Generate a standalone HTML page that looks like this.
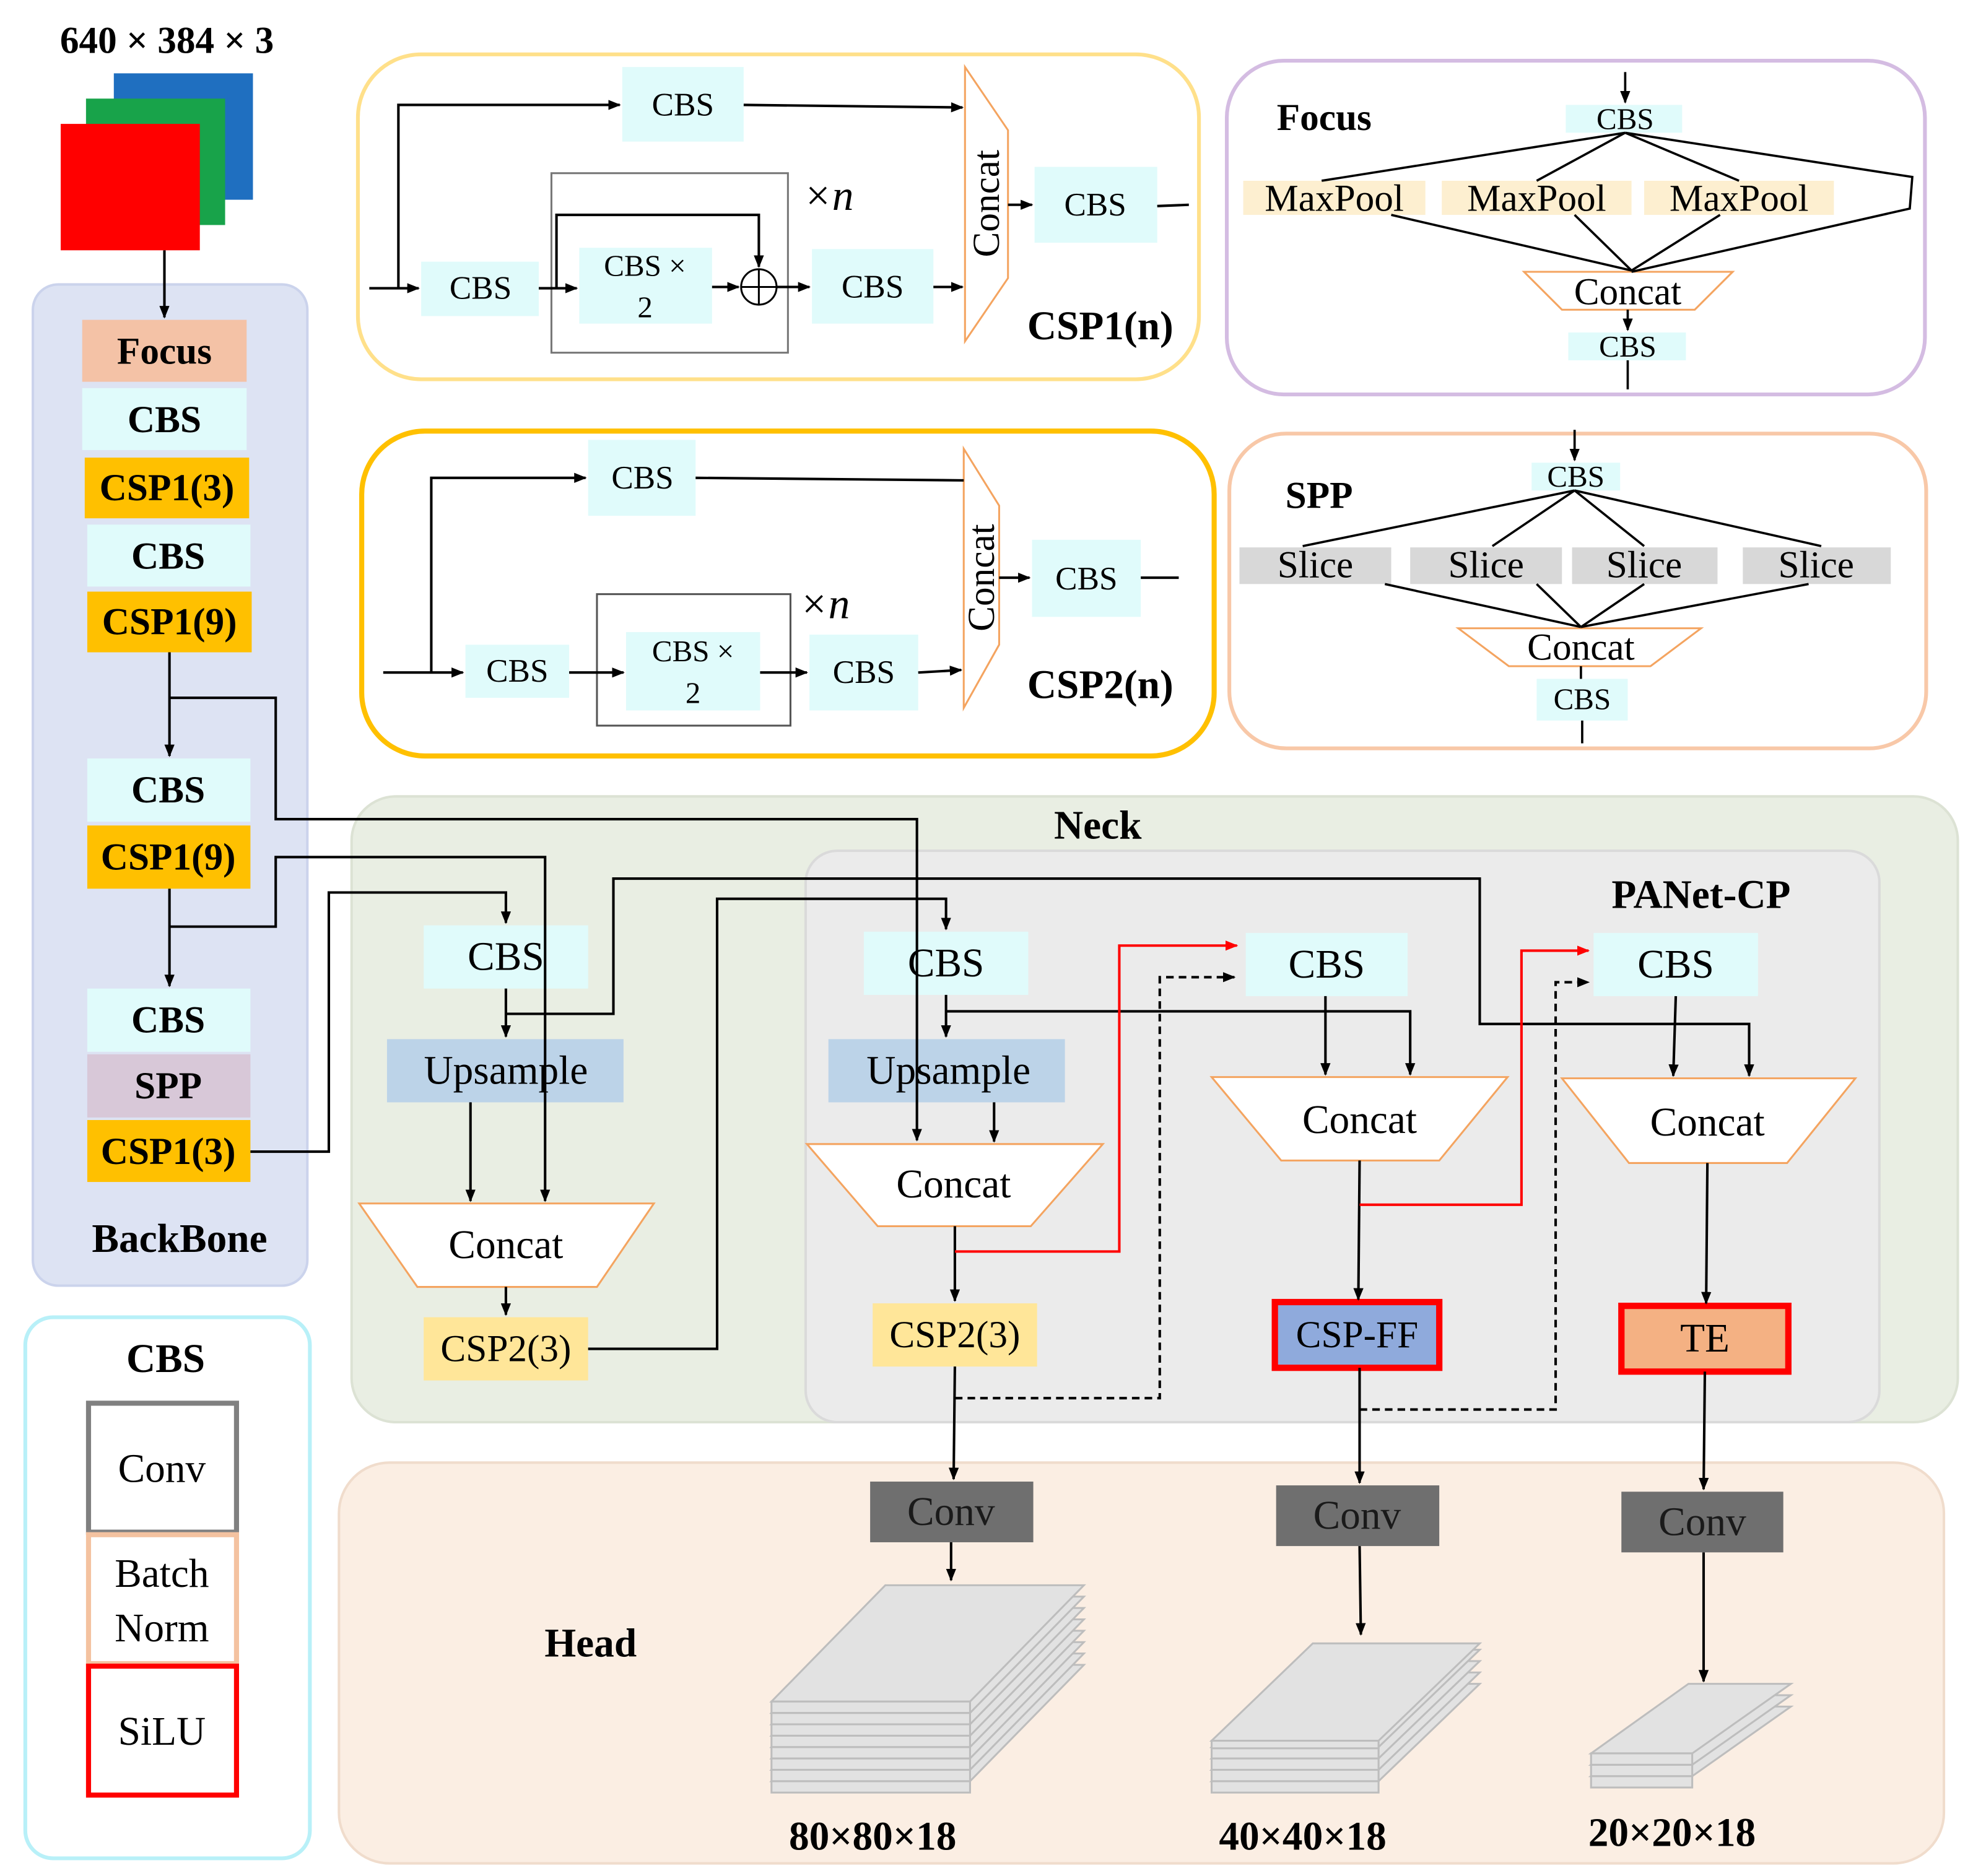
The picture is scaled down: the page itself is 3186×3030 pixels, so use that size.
<!DOCTYPE html>
<html><head><meta charset="utf-8"><style>html,body{margin:0;padding:0;background:#fff}svg{display:block}</style></head>
<body>
<svg width="3186" height="3030" viewBox="0 0 1560 1484" preserveAspectRatio="none" xmlns="http://www.w3.org/2000/svg" font-family="Liberation Serif, serif" font-weight="bold">
<defs>
<marker id="a" markerWidth="10" markerHeight="8" refX="9" refY="4" orient="auto" markerUnits="userSpaceOnUse"><path d="M0,0 L10,4 L0,8 z" fill="#000"/></marker>
<marker id="r" markerWidth="10" markerHeight="8" refX="9" refY="4" orient="auto" markerUnits="userSpaceOnUse"><path d="M0,0 L10,4 L0,8 z" fill="#f00"/></marker>
</defs>
<g text-anchor="middle" dominant-baseline="central">
<!-- input -->
<text x="132" y="32" font-size="30">640 × 384 × 3</text>
<rect x="90" y="58" width="110" height="100" fill="#1f6fc0"/>
<rect x="68" y="78" width="110" height="100" fill="#18a34a"/>
<rect x="48" y="98" width="110" height="100" fill="#ff0000"/>

<!-- backbone -->
<rect x="26" y="225" width="217" height="792" rx="20" fill="#dde3f3" stroke="#cbd3ec" stroke-width="2"/>
<line x1="130" y1="198" x2="130" y2="251" stroke="#000" stroke-width="2" marker-end="url(#a)"/>
<rect x="65" y="253" width="130" height="49" fill="#f4c2a6"/><text x="130" y="278" font-size="30">Focus</text>
<rect x="65" y="307" width="130" height="49" fill="#e0fbfb"/><text x="130" y="332" font-size="30">CBS</text>
<rect x="67" y="362" width="130" height="48" fill="#ffc000"/><text x="132" y="386" font-size="30">CSP1(3)</text>
<rect x="69" y="415" width="129" height="49" fill="#e0fbfb"/><text x="133" y="440" font-size="30">CBS</text>
<rect x="69" y="468" width="130" height="48" fill="#ffc000"/><text x="134" y="492" font-size="30">CSP1(9)</text>
<rect x="69" y="600" width="129" height="50" fill="#e0fbfb"/><text x="133" y="625" font-size="30">CBS</text>
<rect x="69" y="653" width="129" height="50" fill="#ffc000"/><text x="133" y="678" font-size="30">CSP1(9)</text>
<rect x="69" y="782" width="129" height="50" fill="#e0fbfb"/><text x="133" y="807" font-size="30">CBS</text>
<rect x="69" y="834" width="129" height="50" fill="#d8c8d8"/><text x="133" y="859" font-size="30">SPP</text>
<rect x="69" y="886" width="129" height="49" fill="#ffc000"/><text x="133" y="911" font-size="30">CSP1(3)</text>
<text x="142" y="980" font-size="32">BackBone</text>
<g stroke="#000" stroke-width="2" fill="none">
<line x1="134" y1="516" x2="134" y2="598" marker-end="url(#a)"/>
<line x1="134" y1="703" x2="134" y2="780" marker-end="url(#a)"/>
</g>

<!-- CBS legend -->
<rect x="20" y="1042" width="225" height="428" rx="22" fill="#fff" stroke="#b8f0f8" stroke-width="3"/>
<text x="131" y="1075" font-size="32">CBS</text>
<rect x="70" y="1110" width="117" height="102" fill="#fff" stroke="#808080" stroke-width="4"/><text x="128" y="1162" font-size="32" font-weight="normal">Conv</text>
<rect x="70" y="1214" width="117" height="102" fill="#fff" stroke="#f4c2a0" stroke-width="4"/><text x="128" y="1245" font-size="32" font-weight="normal">Batch</text><text x="128" y="1288" font-size="32" font-weight="normal">Norm</text>
<rect x="70" y="1318" width="117" height="102" fill="#fff" stroke="#f00" stroke-width="4"/><text x="128" y="1370" font-size="32" font-weight="normal">SiLU</text>

<!-- CSP1 panel -->
<rect x="283" y="43" width="665" height="257" rx="50" fill="#fff" stroke="#ffe08a" stroke-width="3"/>
<rect x="492" y="53" width="96" height="59" fill="#e0fbfb"/><text x="540" y="83" font-size="26" font-weight="normal">CBS</text>
<rect x="333" y="207" width="93" height="43" fill="#e0fbfb"/><text x="380" y="228" font-size="26" font-weight="normal">CBS</text>
<rect x="436" y="137" width="187" height="142" fill="none" stroke="#777" stroke-width="1.5"/>
<rect x="458" y="196" width="105" height="60" fill="#e0fbfb"/><text x="510" y="210" font-size="24" font-weight="normal">CBS ×</text><text x="510" y="243" font-size="24" font-weight="normal">2</text>
<rect x="642" y="197" width="96" height="59" fill="#e0fbfb"/><text x="690" y="227" font-size="26" font-weight="normal">CBS</text>
<rect x="818" y="132" width="97" height="60" fill="#e0fbfb"/><text x="866" y="162" font-size="26" font-weight="normal">CBS</text>
<polygon points="763,53 797,103 797,220 763,270" fill="#fff" stroke="#f4a460" stroke-width="1.5"/>
<text x="780" y="161" font-size="30" font-weight="normal" transform="rotate(-90 780 161)">Concat</text>
<text x="655" y="155" font-size="34" font-weight="normal" font-style="italic">×n</text>
<text x="870" y="258" font-size="32">CSP1(n)</text>
<circle cx="600" cy="227" r="14" fill="none" stroke="#000" stroke-width="1.5"/>
<line x1="586" y1="227" x2="614" y2="227" stroke="#000" stroke-width="1.5"/><line x1="600" y1="213" x2="600" y2="241" stroke="#000" stroke-width="1.5"/>
<g stroke="#000" stroke-width="2" fill="none">
<line x1="292" y1="228" x2="331" y2="228" marker-end="url(#a)"/>
<polyline points="315,228 315,83 490,83" marker-end="url(#a)"/>
<line x1="426" y1="228" x2="456" y2="228" marker-end="url(#a)"/>
<polyline points="440,228 440,170 600,170 600,211" marker-end="url(#a)"/>
<line x1="563" y1="227" x2="584" y2="227" marker-end="url(#a)"/>
<line x1="614" y1="227" x2="640" y2="227" marker-end="url(#a)"/>
<line x1="738" y1="227" x2="761" y2="227" marker-end="url(#a)"/>
<line x1="588" y1="83" x2="761" y2="85" marker-end="url(#a)"/>
<line x1="797" y1="162" x2="816" y2="162" marker-end="url(#a)"/>
<line x1="915" y1="163" x2="940" y2="162"/>
</g>

<!-- CSP2 panel -->
<rect x="286" y="341" width="674" height="257" rx="50" fill="#fff" stroke="#ffc000" stroke-width="4"/>
<rect x="465" y="348" width="85" height="60" fill="#e0fbfb"/><text x="508" y="378" font-size="26" font-weight="normal">CBS</text>
<rect x="368" y="510" width="82" height="42" fill="#e0fbfb"/><text x="409" y="531" font-size="26" font-weight="normal">CBS</text>
<rect x="472" y="470" width="153" height="104" fill="none" stroke="#555" stroke-width="1.5"/>
<rect x="495" y="500" width="106" height="62" fill="#e0fbfb"/><text x="548" y="515" font-size="24" font-weight="normal">CBS ×</text><text x="548" y="548" font-size="24" font-weight="normal">2</text>
<rect x="640" y="502" width="86" height="60" fill="#e0fbfb"/><text x="683" y="532" font-size="26" font-weight="normal">CBS</text>
<rect x="816" y="427" width="86" height="61" fill="#e0fbfb"/><text x="859" y="458" font-size="26" font-weight="normal">CBS</text>
<polygon points="762,355 790,400 790,510 762,560" fill="#fff" stroke="#f4a460" stroke-width="1.5"/>
<text x="776" y="457" font-size="30" font-weight="normal" transform="rotate(-90 776 457)">Concat</text>
<text x="652" y="478" font-size="34" font-weight="normal" font-style="italic">×n</text>
<text x="870" y="542" font-size="32">CSP2(n)</text>
<g stroke="#000" stroke-width="2" fill="none">
<line x1="303" y1="532" x2="366" y2="532" marker-end="url(#a)"/>
<polyline points="341,532 341,378 463,378" marker-end="url(#a)"/>
<line x1="450" y1="532" x2="493" y2="532" marker-end="url(#a)"/>
<line x1="601" y1="532" x2="638" y2="532" marker-end="url(#a)"/>
<line x1="726" y1="532" x2="760" y2="530" marker-end="url(#a)"/>
<line x1="550" y1="378" x2="762" y2="380"/>
<line x1="790" y1="457" x2="814" y2="457" marker-end="url(#a)"/>
<line x1="902" y1="457" x2="932" y2="457"/>
</g>

<!-- Focus panel -->
<rect x="970" y="48" width="552" height="264" rx="45" fill="#fff" stroke="#d4bce2" stroke-width="3"/>
<text x="1047" y="93" font-size="30">Focus</text>
<rect x="1238" y="83" width="92" height="22" fill="#e0fbfb"/><text x="1285" y="94" font-size="24" font-weight="normal">CBS</text>
<rect x="983" y="143" width="144" height="27" fill="#fdefd0"/><text x="1055" y="157" font-size="30" font-weight="normal">MaxPool</text>
<rect x="1140" y="143" width="150" height="27" fill="#fdefd0"/><text x="1215" y="157" font-size="30" font-weight="normal">MaxPool</text>
<rect x="1300" y="143" width="150" height="27" fill="#fdefd0"/><text x="1375" y="157" font-size="30" font-weight="normal">MaxPool</text>
<polygon points="1205,215 1370,215 1340,245 1235,245" fill="#fff" stroke="#f4a460" stroke-width="1.5"/>
<text x="1287" y="231" font-size="30" font-weight="normal">Concat</text>
<rect x="1240" y="263" width="93" height="22" fill="#e0fbfb"/><text x="1287" y="274" font-size="24" font-weight="normal">CBS</text>
<g stroke="#000" stroke-width="1.8" fill="none">
<line x1="1285" y1="57" x2="1285" y2="81" marker-end="url(#a)"/>
<line x1="1285" y1="105" x2="1045" y2="143"/>
<line x1="1285" y1="105" x2="1215" y2="143"/>
<line x1="1285" y1="105" x2="1375" y2="143"/>
<polyline points="1285,105 1512,140 1510,165 1290,215"/>
<line x1="1100" y1="170" x2="1290" y2="214"/>
<line x1="1245" y1="170" x2="1290" y2="214"/>
<line x1="1360" y1="170" x2="1290" y2="214"/>
<line x1="1287" y1="245" x2="1287" y2="261" marker-end="url(#a)"/>
<line x1="1287" y1="285" x2="1287" y2="308"/>
</g>

<!-- SPP panel -->
<rect x="972" y="343" width="551" height="249" rx="45" fill="#fff" stroke="#f8c8a8" stroke-width="3"/>
<text x="1043" y="392" font-size="30">SPP</text>
<rect x="1211" y="366" width="70" height="22" fill="#e0fbfb"/><text x="1246" y="377" font-size="24" font-weight="normal">CBS</text>
<rect x="980" y="433" width="120" height="29" fill="#d8d8d8"/><text x="1040" y="447" font-size="30" font-weight="normal">Slice</text>
<rect x="1115" y="433" width="120" height="29" fill="#d8d8d8"/><text x="1175" y="447" font-size="30" font-weight="normal">Slice</text>
<rect x="1243" y="433" width="115" height="29" fill="#d8d8d8"/><text x="1300" y="447" font-size="30" font-weight="normal">Slice</text>
<rect x="1378" y="433" width="117" height="29" fill="#d8d8d8"/><text x="1436" y="447" font-size="30" font-weight="normal">Slice</text>
<polygon points="1153,497 1345,497 1305,527 1193,527" fill="#fff" stroke="#f4a460" stroke-width="1.5"/>
<text x="1250" y="512" font-size="30" font-weight="normal">Concat</text>
<rect x="1215" y="537" width="72" height="33" fill="#e0fbfb"/><text x="1251" y="553" font-size="24" font-weight="normal">CBS</text>
<g stroke="#000" stroke-width="1.8" fill="none">
<line x1="1245" y1="340" x2="1245" y2="364" marker-end="url(#a)"/>
<line x1="1245" y1="388" x2="1030" y2="432"/>
<line x1="1245" y1="388" x2="1180" y2="432"/>
<line x1="1245" y1="388" x2="1300" y2="432"/>
<line x1="1245" y1="388" x2="1440" y2="432"/>
<line x1="1095" y1="462" x2="1250" y2="496"/>
<line x1="1215" y1="462" x2="1250" y2="496"/>
<line x1="1300" y1="462" x2="1250" y2="496"/>
<line x1="1430" y1="462" x2="1250" y2="496"/>
<line x1="1250" y1="527" x2="1250" y2="537"/>
<line x1="1251" y1="570" x2="1251" y2="588"/>
</g>

<!-- Neck panel -->
<rect x="278" y="630" width="1270" height="495" rx="35" fill="#e9eee3" stroke="#dce2d4" stroke-width="2"/>
<text x="868" y="653" font-size="32">Neck</text>
<rect x="637" y="673" width="849" height="452" rx="25" fill="#ebebeb" stroke="#dadada" stroke-width="2"/>
<text x="1345" y="708" font-size="32">PANet-CP</text>

<!-- Head panel -->
<rect x="268" y="1157" width="1269" height="317" rx="40" fill="#fbeee3" stroke="#f0dccc" stroke-width="2"/>
<text x="467" y="1300" font-size="32">Head</text>

<!-- Neck nodes -->
<rect x="335" y="732" width="130" height="50" fill="#e0fbfb"/><text x="400" y="757" font-size="32" font-weight="normal">CBS</text>
<rect x="306" y="822" width="187" height="50" fill="#bcd3e8"/><text x="400" y="847" font-size="32" font-weight="normal">Upsample</text>
<polygon points="284,952 517,952 472,1018 330,1018" fill="#fff" stroke="#f4a460" stroke-width="1.5"/><text x="400" y="985" font-size="32" font-weight="normal">Concat</text>
<rect x="335" y="1042" width="130" height="50" fill="#ffe699"/><text x="400" y="1067" font-size="30" font-weight="normal">CSP2(3)</text>

<rect x="683" y="737" width="130" height="50" fill="#e0fbfb"/><text x="748" y="762" font-size="32" font-weight="normal">CBS</text>
<rect x="655" y="822" width="187" height="50" fill="#bcd3e8"/><text x="750" y="847" font-size="32" font-weight="normal">Upsample</text>
<polygon points="638,905 872,905 815,970 694,970" fill="#fff" stroke="#f4a460" stroke-width="1.5"/><text x="754" y="937" font-size="32" font-weight="normal">Concat</text>
<rect x="690" y="1031" width="130" height="50" fill="#ffe699"/><text x="755" y="1056" font-size="30" font-weight="normal">CSP2(3)</text>

<rect x="985" y="738" width="128" height="50" fill="#e0fbfb"/><text x="1049" y="763" font-size="32" font-weight="normal">CBS</text>
<polygon points="958,852 1192,852 1138,918 1013,918" fill="#fff" stroke="#f4a460" stroke-width="1.5"/><text x="1075" y="886" font-size="32" font-weight="normal">Concat</text>
<rect x="1008" y="1030" width="130" height="52" fill="#8faadc" stroke="#f00" stroke-width="5"/><text x="1073" y="1056" font-size="30" font-weight="normal">CSP-FF</text>

<rect x="1260" y="738" width="130" height="50" fill="#e0fbfb"/><text x="1325" y="763" font-size="32" font-weight="normal">CBS</text>
<polygon points="1235,853 1467,853 1413,920 1288,920" fill="#fff" stroke="#f4a460" stroke-width="1.5"/><text x="1350" y="888" font-size="32" font-weight="normal">Concat</text>
<rect x="1282" y="1033" width="132" height="52" fill="#f4b183" stroke="#f00" stroke-width="5"/><text x="1348" y="1059" font-size="32" font-weight="normal">TE</text>

<!-- Neck connectors -->
<g stroke="#000" stroke-width="2" fill="none">
<polyline points="134,552 218,552 218,648 725,648 725,902" marker-end="url(#a)"/>
<polyline points="134,733 218,733 218,678 431,678 431,950" marker-end="url(#a)"/>
<polyline points="198,911 260,911 260,706 400,706 400,730" marker-end="url(#a)"/>
<line x1="400" y1="782" x2="400" y2="820" marker-end="url(#a)"/>
<polyline points="400,802 485,802 485,695 1170,695 1170,810 1383,810 1383,851" marker-end="url(#a)"/>
<line x1="372" y1="872" x2="372" y2="950" marker-end="url(#a)"/>
<line x1="400" y1="1018" x2="400" y2="1040" marker-end="url(#a)"/>
<polyline points="465,1067 567,1067 567,711 748,711 748,735" marker-end="url(#a)"/>
<line x1="748" y1="787" x2="748" y2="820" marker-end="url(#a)"/>
<polyline points="748,800 1115,800 1115,850" marker-end="url(#a)"/>
<line x1="786" y1="872" x2="786" y2="903" marker-end="url(#a)"/>
<line x1="755" y1="970" x2="755" y2="1029" marker-end="url(#a)"/>
<line x1="755" y1="1081" x2="754" y2="1170" marker-end="url(#a)"/>
<line x1="1048" y1="788" x2="1048" y2="850" marker-end="url(#a)"/>
<line x1="1075" y1="918" x2="1074" y2="1028" marker-end="url(#a)"/>
<line x1="1075" y1="1082" x2="1075" y2="1173" marker-end="url(#a)"/>
<line x1="1325" y1="788" x2="1323" y2="851" marker-end="url(#a)"/>
<line x1="1350" y1="920" x2="1349" y2="1031" marker-end="url(#a)"/>
<line x1="1348" y1="1085" x2="1347" y2="1178" marker-end="url(#a)"/>
<line x1="752" y1="1220" x2="752" y2="1250" marker-end="url(#a)"/>
<line x1="1075" y1="1223" x2="1076" y2="1293" marker-end="url(#a)"/>
<line x1="1347" y1="1228" x2="1347" y2="1330" marker-end="url(#a)"/>
</g>
<g stroke="#000" stroke-width="2" fill="none" stroke-dasharray="6,4">
<polyline points="755,1106 917,1106 917,773 976,773" marker-end="url(#a)"/>
<polyline points="1075,1115 1230,1115 1230,777 1256,777" marker-end="url(#a)"/>
</g>
<g stroke="#f00" stroke-width="2" fill="none">
<polyline points="755,990 885,990 885,748 978,748" marker-end="url(#r)"/>
<polyline points="1075,953 1203,953 1203,752 1256,752" marker-end="url(#r)"/>
</g>

<!-- Head convs -->
<rect x="688" y="1172" width="129" height="48" fill="#6f6f6f"/><text x="752" y="1196" font-size="32" font-weight="normal" fill="#1a1a1a">Conv</text>
<rect x="1009" y="1175" width="129" height="48" fill="#6f6f6f"/><text x="1073" y="1199" font-size="32" font-weight="normal" fill="#1a1a1a">Conv</text>
<rect x="1282" y="1180" width="128" height="48" fill="#6f6f6f"/><text x="1346" y="1204" font-size="32" font-weight="normal" fill="#1a1a1a">Conv</text>

<!-- stacks -->
<g stroke="#bdbdbd" stroke-width="1.5" fill="#e2e2e2">
<polygon points="610,1409 700,1317 857,1317 767,1409"/><rect x="610" y="1409" width="157" height="9"/>
<polygon points="610,1400 700,1308 857,1308 767,1400"/><rect x="610" y="1400" width="157" height="9"/>
<polygon points="610,1391 700,1299 857,1299 767,1391"/><rect x="610" y="1391" width="157" height="9"/>
<polygon points="610,1382 700,1290 857,1290 767,1382"/><rect x="610" y="1382" width="157" height="9"/>
<polygon points="610,1373 700,1281 857,1281 767,1373"/><rect x="610" y="1373" width="157" height="9"/>
<polygon points="610,1364 700,1272 857,1272 767,1364"/><rect x="610" y="1364" width="157" height="9"/>
<polygon points="610,1355 700,1263 857,1263 767,1355"/><rect x="610" y="1355" width="157" height="9"/>
<polygon points="610,1346 700,1254 857,1254 767,1346"/><rect x="610" y="1346" width="157" height="9"/>

<polygon points="958,1409 1038,1332 1170,1332 1090,1409"/><rect x="958" y="1409" width="132" height="9"/>
<polygon points="958,1400 1038,1323 1170,1323 1090,1400"/><rect x="958" y="1400" width="132" height="9"/>
<polygon points="958,1391 1038,1314 1170,1314 1090,1391"/><rect x="958" y="1391" width="132" height="9"/>
<polygon points="958,1382 1038,1305 1170,1305 1090,1382"/><rect x="958" y="1382" width="132" height="9"/>
<polygon points="958,1377 1038,1300 1170,1300 1090,1377"/><rect x="958" y="1377" width="132" height="6"/>

<polygon points="1258,1405 1335,1350 1416,1350 1338,1405"/><rect x="1258" y="1405" width="80" height="9"/>
<polygon points="1258,1396 1335,1341 1416,1341 1338,1396"/><rect x="1258" y="1396" width="80" height="9"/>
<polygon points="1258,1387 1335,1332 1416,1332 1338,1387"/><rect x="1258" y="1387" width="80" height="9"/>
</g>
<text x="690" y="1453" font-size="32">80×80×18</text>
<text x="1030" y="1453" font-size="32">40×40×18</text>
<text x="1322" y="1450" font-size="32">20×20×18</text>
</g>
</svg>
</body></html>
